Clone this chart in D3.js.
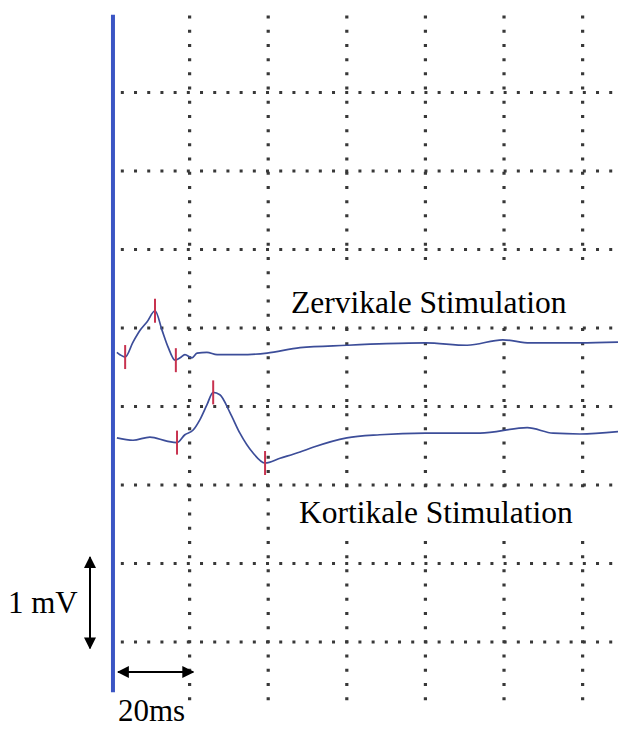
<!DOCTYPE html>
<html>
<head>
<meta charset="utf-8">
<script src="https://d3js.org/d3.v7.min.js"></script>
<style>
  body { margin: 0; background: #fff; }
  svg { display: block; }
</style>
</head>
<body>
<svg width="618" height="738"></svg>
<script>
// time in ms after stimulus, amplitude in mV (1 grid box = 20 ms x 1 mV)
var gridMs = [20, 40, 60, 80, 100, 120];
var gridMv = [0, 1, 2, 3, 4, 5, 6, 7];

var cervT = [1.5, 2.3, 3.6, 5.6, 7.4, 9.2, 11.2, 13.0, 14.5, 16.3, 17.6, 18.8, 20.6, 21.9, 24.4, 27, 32.8, 39.7, 48.1, 60, 70, 80, 90.6, 99.7, 106.6, 119.3, 129];
var cervV = [3.69, 3.66, 3.63, 3.82, 3.97, 4.08, 4.22, 3.97, 3.76, 3.59, 3.62, 3.66, 3.62, 3.68, 3.69, 3.66, 3.66, 3.68, 3.75, 3.78, 3.80, 3.81, 3.78, 3.85, 3.81, 3.81, 3.82];
var cervMarkT = [3.6, 11.2, 16.5];
var cervMarkV = [3.63, 4.22, 3.59];

var cortT = [1.5, 5.6, 9.9, 14.2, 16.8, 18.8, 20.9, 22.6, 24.4, 26.0, 27.7, 30.3, 32.8, 36.1, 39.2, 43, 48.1, 51.4, 60, 68.4, 80, 93.9, 105.9, 112.5, 119.3, 129];
var cortV = [2.60, 2.57, 2.61, 2.56, 2.54, 2.64, 2.70, 2.83, 3.02, 3.18, 3.15, 2.92, 2.66, 2.41, 2.28, 2.34, 2.42, 2.48, 2.60, 2.64, 2.66, 2.66, 2.73, 2.66, 2.65, 2.68];
var cortMarkT = [16.8, 26.0, 39.2];
var cortMarkV = [2.54, 3.18, 2.28];

var stimT = 0.5;
var labels = ['Zervikale Stimulation', 'Kortikale Stimulation'];
var scaleLabels = ['1 mV', '20ms'];

var svg = d3.select('svg');
var x = d3.scaleLinear().domain([0, 129]).range([111, 618]);
var y = d3.scaleLinear().domain([0, 8]).range([642, 14]);
var font = '"Liberation Serif", "Times New Roman", serif';

// dotted grid
svg.append('g').selectAll('line')
  .data(gridMs).enter().append('line')
  .attr('x1', function(d) { return x(d); })
  .attr('x2', function(d) { return x(d); })
  .attr('y1', y(7.98)).attr('y2', y(-0.76))
  .style('stroke', '#383838').style('stroke-width', 3.2)
  .style('stroke-dasharray', '3 11.2');

svg.append('g').selectAll('line')
  .data(gridMv).enter().append('line')
  .attr('x1', x(2.5)).attr('x2', x(129))
  .attr('y1', function(d) { return y(d); })
  .attr('y2', function(d) { return y(d); })
  .style('stroke', '#383838').style('stroke-width', 3.2)
  .style('stroke-dasharray', '3 10.2');

// white label boxes that hide the grid
svg.append('rect').attr('x', 272).attr('y', 268).attr('width', 346).attr('height', 56).style('fill', '#fff');
svg.append('rect').attr('x', 275).attr('y', 488).attr('width', 343).attr('height', 53).style('fill', '#fff');

// stimulus line
svg.append('line')
  .attr('x1', x(stimT)).attr('x2', x(stimT))
  .attr('y1', y(7.99)).attr('y2', y(-0.64))
  .style('stroke', '#3b55c4').style('stroke-width', 4);

// traces
var line = d3.line()
  .x(function(d) { return x(d[0]); })
  .y(function(d) { return y(d[1]); })
  .curve(d3.curveMonotoneX);

function trace(ts, vs, mts, mvs) {
  var pts = ts.map(function(t, i) { return [t, vs[i]]; });
  svg.append('path').datum(pts)
    .attr('d', line)
    .style('fill', 'none')
    .style('stroke', '#3c4d99')
    .style('stroke-width', 1.7);
  var marks = mts.map(function(t, i) { return [t, mvs[i]]; });
  svg.append('g').selectAll('line')
    .data(marks).enter().append('line')
    .attr('x1', function(d) { return x(d[0]); })
    .attr('x2', function(d) { return x(d[0]); })
    .attr('y1', function(d) { return y(d[1]) - 12; })
    .attr('y2', function(d) { return y(d[1]) + 12; })
    .style('stroke', '#c8324f').style('stroke-width', 2);
}
trace(cervT, cervV, cervMarkT, cervMarkV);
trace(cortT, cortV, cortMarkT, cortMarkV);

// labels
svg.append('text').attr('x', 291).attr('y', 313)
  .style('font-family', font).style('font-size', '31.5px').text(labels[0]);
svg.append('text').attr('x', 299).attr('y', 523)
  .style('font-family', font).style('font-size', '31.5px').text(labels[1]);

// scale bars
var defs = svg.append('defs');
defs.append('marker').attr('id', 'ah')
  .attr('viewBox', '0 0 10 10').attr('refX', 9).attr('refY', 5)
  .attr('markerWidth', 6).attr('markerHeight', 6)
  .attr('markerUnits', 'strokeWidth')
  .attr('orient', 'auto-start-reverse')
  .append('path').attr('d', 'M0,0 L10,5 L0,10 Z').style('fill', '#000');

svg.append('line')
  .attr('x1', 90).attr('x2', 90)
  .attr('y1', y(1.08)).attr('y2', y(-0.08))
  .style('stroke', '#000').style('stroke-width', 2)
  .attr('marker-start', 'url(#ah)').attr('marker-end', 'url(#ah)');
svg.append('line')
  .attr('x1', x(1.8)).attr('x2', x(20.9))
  .attr('y1', 672).attr('y2', 672)
  .style('stroke', '#000').style('stroke-width', 2)
  .attr('marker-start', 'url(#ah)').attr('marker-end', 'url(#ah)');

svg.append('text').attr('x', 8).attr('y', 613)
  .style('font-family', font).style('font-size', '31px').text(scaleLabels[0]);
svg.append('text').attr('x', 118).attr('y', 721)
  .style('font-family', font).style('font-size', '31px').text(scaleLabels[1]);
</script>
</body>
</html>
